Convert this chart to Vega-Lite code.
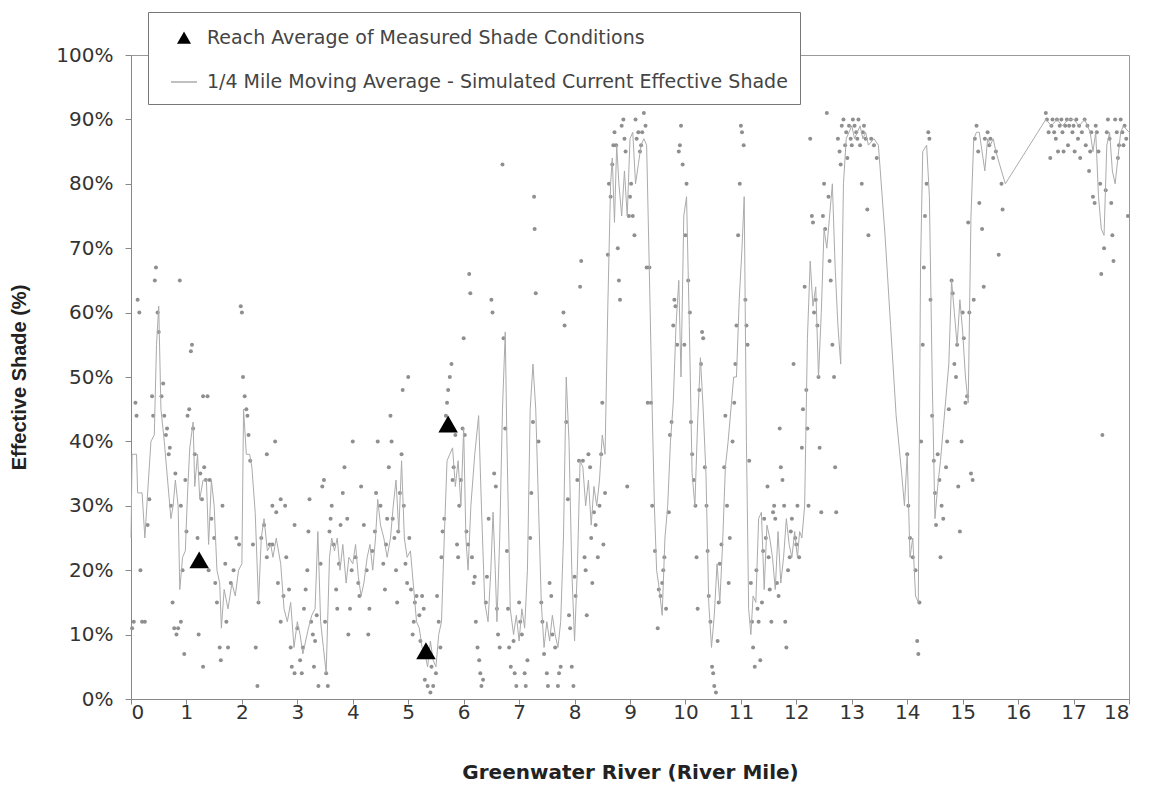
{
  "$schema": "https://vega.github.io/schema/vega-lite/v6.json",
  "width": 998,
  "height": 644,
  "autosize": "none",
  "padding": {"left": 131, "top": 55, "right": 20, "bottom": 88},
  "background": "white",
  "config": {
    "view": {"stroke": "#999", "strokeWidth": 1},
    "axis": {
      "grid": false,
      "domainColor": "#888",
      "tickColor": "#888",
      "tickSize": 6,
      "labelColor": "#333",
      "labelFont": "DejaVu Sans",
      "labelFontSize": 20,
      "titleFontWeight": "bold",
      "titleColor": "#222"
    }
  },
  "datasets": {
    "tri": [
      {"m": 1.23, "v": 21.6},
      {"m": 5.32, "v": 7.5},
      {"m": 5.72, "v": 42.7}
    ],
    "line": [
      {"m":0.00,"v":25},{"m":0.02,"v":38},{"m":0.10,"v":38},{"m":0.12,"v":32},{"m":0.20,"v":32},{"m":0.25,"v":25},{"m":0.30,"v":32},{"m":0.36,"v":40},{"m":0.42,"v":41},{"m":0.46,"v":55},{"m":0.50,"v":61},{"m":0.54,"v":45},{"m":0.60,"v":40},{"m":0.66,"v":34},{"m":0.72,"v":28},{"m":0.76,"v":30},{"m":0.80,"v":34},{"m":0.85,"v":30},{"m":0.88,"v":17},{"m":0.93,"v":22},{"m":0.98,"v":23},
      {"m":1.02,"v":32},{"m":1.06,"v":39},{"m":1.12,"v":43},{"m":1.15,"v":33},{"m":1.20,"v":38},{"m":1.24,"v":31},{"m":1.30,"v":34},{"m":1.36,"v":34},{"m":1.40,"v":24},{"m":1.45,"v":34},{"m":1.50,"v":30},{"m":1.55,"v":20},{"m":1.60,"v":18},{"m":1.63,"v":11},{"m":1.68,"v":17},{"m":1.75,"v":14},{"m":1.82,"v":18},{"m":1.88,"v":16},{"m":1.94,"v":20},{"m":2.00,"v":21},
      {"m":2.03,"v":45},{"m":2.08,"v":38},{"m":2.14,"v":38},{"m":2.18,"v":36},{"m":2.24,"v":29},{"m":2.30,"v":15},{"m":2.35,"v":25},{"m":2.40,"v":28},{"m":2.46,"v":23},{"m":2.52,"v":24},{"m":2.56,"v":22},{"m":2.62,"v":25},{"m":2.70,"v":21},{"m":2.76,"v":14},{"m":2.82,"v":12},{"m":2.88,"v":15},{"m":2.94,"v":8},
      {"m":3.00,"v":12},{"m":3.05,"v":10},{"m":3.10,"v":7},{"m":3.15,"v":9},{"m":3.20,"v":11},{"m":3.26,"v":13},{"m":3.32,"v":14},{"m":3.37,"v":26},{"m":3.42,"v":12},{"m":3.47,"v":8},{"m":3.52,"v":4},{"m":3.58,"v":22},{"m":3.62,"v":25},{"m":3.67,"v":23},{"m":3.72,"v":25},{"m":3.77,"v":20},{"m":3.82,"v":24},{"m":3.88,"v":18},{"m":3.93,"v":22},
      {"m":4.00,"v":21},{"m":4.05,"v":24},{"m":4.10,"v":19},{"m":4.15,"v":16},{"m":4.20,"v":18},{"m":4.26,"v":22},{"m":4.31,"v":24},{"m":4.36,"v":20},{"m":4.41,"v":25},{"m":4.45,"v":31},{"m":4.50,"v":27},{"m":4.56,"v":25},{"m":4.62,"v":22},{"m":4.68,"v":25},{"m":4.73,"v":30},{"m":4.78,"v":34},{"m":4.83,"v":26},{"m":4.88,"v":37},{"m":4.93,"v":25},{"m":4.98,"v":22},
      {"m":5.04,"v":23},{"m":5.10,"v":17},{"m":5.15,"v":12},{"m":5.20,"v":11},{"m":5.25,"v":8},{"m":5.30,"v":7},{"m":5.35,"v":5},{"m":5.40,"v":9},{"m":5.45,"v":6},{"m":5.50,"v":5},{"m":5.55,"v":10},{"m":5.60,"v":12},{"m":5.65,"v":25},{"m":5.70,"v":37},{"m":5.75,"v":38},{"m":5.80,"v":39},{"m":5.85,"v":33},{"m":5.90,"v":37},{"m":5.95,"v":30},
      {"m":6.00,"v":42},{"m":6.04,"v":25},{"m":6.08,"v":20},{"m":6.13,"v":30},{"m":6.20,"v":38},{"m":6.27,"v":44},{"m":6.32,"v":30},{"m":6.38,"v":15},{"m":6.44,"v":12},{"m":6.49,"v":20},{"m":6.53,"v":29},{"m":6.57,"v":20},{"m":6.60,"v":12},{"m":6.65,"v":25},{"m":6.70,"v":45},{"m":6.75,"v":57},{"m":6.78,"v":40},{"m":6.84,"v":14},{"m":6.90,"v":10},{"m":6.95,"v":13},
      {"m":7.00,"v":9},{"m":7.05,"v":14},{"m":7.10,"v":11},{"m":7.15,"v":20},{"m":7.20,"v":45},{"m":7.25,"v":52},{"m":7.30,"v":45},{"m":7.35,"v":30},{"m":7.40,"v":15},{"m":7.45,"v":8},{"m":7.50,"v":12},{"m":7.55,"v":9},{"m":7.60,"v":13},{"m":7.65,"v":10},{"m":7.70,"v":8},{"m":7.75,"v":12},{"m":7.80,"v":25},{"m":7.85,"v":50},{"m":7.90,"v":40},{"m":7.95,"v":20},
      {"m":8.00,"v":9},{"m":8.05,"v":20},{"m":8.10,"v":37},{"m":8.15,"v":36},{"m":8.20,"v":30},{"m":8.25,"v":34},{"m":8.30,"v":27},{"m":8.35,"v":33},{"m":8.40,"v":30},{"m":8.45,"v":34},{"m":8.50,"v":41},{"m":8.55,"v":38},{"m":8.60,"v":61},{"m":8.65,"v":80},{"m":8.68,"v":84},{"m":8.72,"v":74},{"m":8.76,"v":86},{"m":8.80,"v":80},{"m":8.85,"v":75},{"m":8.90,"v":82},{"m":8.95,"v":75},
      {"m":9.00,"v":87},{"m":9.05,"v":88},{"m":9.10,"v":80},{"m":9.15,"v":83},{"m":9.20,"v":86},{"m":9.25,"v":87},{"m":9.30,"v":86},{"m":9.35,"v":66},{"m":9.40,"v":45},{"m":9.44,"v":30},{"m":9.48,"v":20},{"m":9.53,"v":17},{"m":9.58,"v":13},{"m":9.63,"v":25},{"m":9.68,"v":30},{"m":9.73,"v":40},{"m":9.78,"v":46},{"m":9.83,"v":58},{"m":9.88,"v":65},{"m":9.92,"v":50},{"m":9.97,"v":75},
      {"m":10.02,"v":78},{"m":10.07,"v":58},{"m":10.12,"v":35},{"m":10.17,"v":30},{"m":10.22,"v":43},{"m":10.27,"v":53},{"m":10.32,"v":45},{"m":10.37,"v":35},{"m":10.42,"v":15},{"m":10.47,"v":8},{"m":10.52,"v":13},{"m":10.57,"v":21},{"m":10.62,"v":15},{"m":10.67,"v":24},{"m":10.72,"v":36},{"m":10.77,"v":40},{"m":10.82,"v":45},{"m":10.87,"v":50},{"m":10.92,"v":50},{"m":10.97,"v":62},
      {"m":11.02,"v":70},{"m":11.06,"v":78},{"m":11.10,"v":40},{"m":11.14,"v":14},{"m":11.18,"v":10},{"m":11.22,"v":16},{"m":11.27,"v":15},{"m":11.32,"v":28},{"m":11.37,"v":29},{"m":11.42,"v":17},{"m":11.47,"v":27},{"m":11.52,"v":25},{"m":11.57,"v":22},{"m":11.62,"v":17},{"m":11.67,"v":26},{"m":11.72,"v":18},{"m":11.77,"v":22},{"m":11.82,"v":28},{"m":11.87,"v":24},{"m":11.92,"v":22},{"m":11.97,"v":26},
      {"m":12.02,"v":22},{"m":12.06,"v":26},{"m":12.10,"v":25},{"m":12.15,"v":30},{"m":12.20,"v":56},{"m":12.25,"v":68},{"m":12.30,"v":61},{"m":12.35,"v":64},{"m":12.40,"v":50},{"m":12.45,"v":60},{"m":12.50,"v":73},{"m":12.55,"v":70},{"m":12.60,"v":75},{"m":12.65,"v":80},{"m":12.70,"v":67},{"m":12.75,"v":58},{"m":12.80,"v":52},{"m":12.85,"v":80},{"m":12.90,"v":87},{"m":12.95,"v":88},
      {"m":13.00,"v":89},{"m":13.05,"v":87},{"m":13.10,"v":88},{"m":13.15,"v":89},{"m":13.20,"v":87},{"m":13.25,"v":88},{"m":13.30,"v":86},{"m":13.40,"v":87},{"m":13.48,"v":86},{"m":13.60,"v":72},{"m":13.70,"v":58},{"m":13.80,"v":44},{"m":13.90,"v":35},{"m":13.95,"v":30},{"m":14.00,"v":38},{"m":14.05,"v":22},{"m":14.10,"v":25},{"m":14.15,"v":16},{"m":14.20,"v":15},
      {"m":14.24,"v":67},{"m":14.28,"v":85},{"m":14.35,"v":86},{"m":14.40,"v":78},{"m":14.45,"v":50},{"m":14.50,"v":28},{"m":14.55,"v":33},{"m":14.60,"v":37},{"m":14.65,"v":42},{"m":14.70,"v":47},{"m":14.75,"v":52},{"m":14.80,"v":65},{"m":14.85,"v":60},{"m":14.90,"v":55},{"m":14.95,"v":62},
      {"m":15.00,"v":57},{"m":15.05,"v":50},{"m":15.10,"v":46},{"m":15.15,"v":75},{"m":15.20,"v":87},{"m":15.25,"v":88},{"m":15.30,"v":88},{"m":15.35,"v":85},{"m":15.40,"v":82},{"m":15.45,"v":87},{"m":15.50,"v":86},{"m":15.55,"v":87},{"m":15.60,"v":85},{"m":15.70,"v":82},{"m":15.77,"v":80},
      {"m":16.50,"v":90},{"m":16.60,"v":89},{"m":16.70,"v":90},{"m":16.80,"v":89},{"m":16.90,"v":90},{"m":17.00,"v":90},{"m":17.10,"v":89},{"m":17.20,"v":90},{"m":17.30,"v":88},{"m":17.35,"v":85},{"m":17.40,"v":88},{"m":17.45,"v":78},{"m":17.50,"v":73},{"m":17.55,"v":72},{"m":17.60,"v":86},{"m":17.65,"v":88},{"m":17.70,"v":82},{"m":17.75,"v":80},{"m":17.80,"v":84},{"m":17.85,"v":88},{"m":17.90,"v":89},{"m":18.00,"v":88}
    ],
    "dots": [
      {"m":0.02,"v":11},{"m":0.05,"v":12},{"m":0.08,"v":46},{"m":0.1,"v":44},{"m":0.12,"v":62},{"m":0.15,"v":60},{"m":0.17,"v":20},{"m":0.2,"v":12},{"m":0.25,"v":12},{"m":0.3,"v":27},{"m":0.33,"v":31},{"m":0.38,"v":47},{"m":0.4,"v":44},{"m":0.43,"v":65},{"m":0.45,"v":67},{"m":0.48,"v":60},{"m":0.5,"v":57},{"m":0.55,"v":47},{"m":0.58,"v":49},{"m":0.6,"v":44},{"m":0.63,"v":41},{"m":0.65,"v":42},{"m":0.68,"v":38},{"m":0.7,"v":39},{"m":0.72,"v":30},{"m":0.75,"v":15},{"m":0.78,"v":11},{"m":0.82,"v":10},{"m":0.85,"v":11},{"m":0.88,"v":65},{"m":0.9,"v":12},{"m":0.93,"v":20},{"m":0.96,"v":7},{"m":0.98,"v":34},{"m":0.8,"v":35},{"m":0.9,"v":30},
      {"m":1.0,"v":26},{"m":1.02,"v":44},{"m":1.05,"v":45},{"m":1.08,"v":54},{"m":1.1,"v":55},{"m":1.12,"v":42},{"m":1.15,"v":38},{"m":1.2,"v":25},{"m":1.22,"v":10},{"m":1.25,"v":35},{"m":1.28,"v":31},{"m":1.3,"v":47},{"m":1.32,"v":36},{"m":1.35,"v":34},{"m":1.38,"v":47},{"m":1.42,"v":34},{"m":1.45,"v":28},{"m":1.5,"v":25},{"m":1.52,"v":18},{"m":1.55,"v":15},{"m":1.6,"v":8},{"m":1.62,"v":6},{"m":1.65,"v":30},{"m":1.7,"v":21},{"m":1.72,"v":12},{"m":1.75,"v":8},{"m":1.8,"v":18},{"m":1.85,"v":20},{"m":1.9,"v":25},{"m":1.95,"v":24},{"m":1.98,"v":61},{"m":2.0,"v":60},{"m":2.02,"v":50},{"m":2.05,"v":47},{"m":2.08,"v":45},{"m":2.1,"v":44},{"m":2.12,"v":41},{"m":1.3,"v":5},{"m":1.4,"v":20},
      {"m":2.15,"v":37},{"m":2.2,"v":24},{"m":2.25,"v":8},{"m":2.28,"v":2},{"m":2.3,"v":15},{"m":2.35,"v":25},{"m":2.4,"v":27},{"m":2.45,"v":22},{"m":2.5,"v":24},{"m":2.55,"v":30},{"m":2.6,"v":40},{"m":2.62,"v":29},{"m":2.65,"v":18},{"m":2.7,"v":12},{"m":2.75,"v":16},{"m":2.8,"v":22},{"m":2.85,"v":17},{"m":2.88,"v":8},{"m":2.9,"v":5},{"m":2.95,"v":4},{"m":2.45,"v":38},{"m":2.55,"v":24},{"m":2.7,"v":31},{"m":2.78,"v":30},{"m":2.95,"v":27},
      {"m":3.0,"v":11},{"m":3.05,"v":6},{"m":3.08,"v":4},{"m":3.1,"v":8},{"m":3.12,"v":14},{"m":3.15,"v":17},{"m":3.18,"v":20},{"m":3.2,"v":26},{"m":3.22,"v":31},{"m":3.25,"v":12},{"m":3.28,"v":10},{"m":3.3,"v":5},{"m":3.32,"v":9},{"m":3.35,"v":13},{"m":3.38,"v":2},{"m":3.42,"v":21},{"m":3.45,"v":33},{"m":3.48,"v":34},{"m":3.5,"v":12},{"m":3.52,"v":4},{"m":3.55,"v":2},{"m":3.58,"v":26},{"m":3.6,"v":28},{"m":3.62,"v":30},{"m":3.65,"v":24},{"m":3.7,"v":17},{"m":3.72,"v":14},{"m":3.75,"v":21},{"m":3.78,"v":27},{"m":3.82,"v":32},{"m":3.85,"v":36},{"m":3.9,"v":28},{"m":3.92,"v":10},{"m":3.95,"v":14},{"m":3.98,"v":20},
      {"m":4.0,"v":40},{"m":4.05,"v":22},{"m":4.1,"v":18},{"m":4.12,"v":16},{"m":4.15,"v":33},{"m":4.2,"v":27},{"m":4.25,"v":20},{"m":4.28,"v":10},{"m":4.3,"v":14},{"m":4.35,"v":23},{"m":4.4,"v":26},{"m":4.42,"v":32},{"m":4.45,"v":40},{"m":4.5,"v":30},{"m":4.55,"v":21},{"m":4.58,"v":17},{"m":4.6,"v":24},{"m":4.62,"v":28},{"m":4.65,"v":36},{"m":4.68,"v":44},{"m":4.7,"v":40},{"m":4.72,"v":28},{"m":4.75,"v":25},{"m":4.78,"v":20},{"m":4.8,"v":15},{"m":4.82,"v":26},{"m":4.85,"v":32},{"m":4.88,"v":38},{"m":4.9,"v":48},{"m":4.92,"v":30},{"m":4.95,"v":21},{"m":4.98,"v":18},
      {"m":5.0,"v":50},{"m":5.02,"v":25},{"m":5.05,"v":17},{"m":5.08,"v":10},{"m":5.1,"v":12},{"m":5.12,"v":15},{"m":5.15,"v":16},{"m":5.2,"v":13},{"m":5.22,"v":9},{"m":5.25,"v":16},{"m":5.28,"v":14},{"m":5.3,"v":3},{"m":5.35,"v":2},{"m":5.4,"v":1},{"m":5.42,"v":5},{"m":5.45,"v":2},{"m":5.5,"v":4},{"m":5.52,"v":16},{"m":5.55,"v":12},{"m":5.58,"v":8},{"m":5.6,"v":22},{"m":5.62,"v":26},{"m":5.65,"v":28},{"m":5.68,"v":44},{"m":5.7,"v":46},{"m":5.72,"v":48},{"m":5.75,"v":50},{"m":5.78,"v":52},{"m":5.8,"v":34},{"m":5.82,"v":36},{"m":5.85,"v":41},{"m":5.88,"v":24},{"m":5.9,"v":22},{"m":5.92,"v":30},{"m":5.95,"v":34},{"m":5.98,"v":42},
      {"m":6.0,"v":56},{"m":6.02,"v":41},{"m":6.05,"v":26},{"m":6.08,"v":24},{"m":6.1,"v":66},{"m":6.12,"v":63},{"m":6.15,"v":22},{"m":6.18,"v":18},{"m":6.2,"v":19},{"m":6.22,"v":12},{"m":6.25,"v":8},{"m":6.28,"v":6},{"m":6.3,"v":4},{"m":6.32,"v":2},{"m":6.35,"v":3},{"m":6.4,"v":15},{"m":6.42,"v":19},{"m":6.45,"v":28},{"m":6.5,"v":62},{"m":6.52,"v":60},{"m":6.55,"v":35},{"m":6.58,"v":33},{"m":6.6,"v":14},{"m":6.62,"v":10},{"m":6.65,"v":8},{"m":6.7,"v":83},{"m":6.72,"v":56},{"m":6.75,"v":42},{"m":6.78,"v":23},{"m":6.8,"v":14},{"m":6.82,"v":8},{"m":6.85,"v":5},{"m":6.9,"v":9},{"m":6.92,"v":4},{"m":6.95,"v":2},
      {"m":7.0,"v":15},{"m":7.02,"v":12},{"m":7.05,"v":10},{"m":7.1,"v":4},{"m":7.12,"v":2},{"m":7.15,"v":6},{"m":7.2,"v":25},{"m":7.22,"v":32},{"m":7.25,"v":43},{"m":7.27,"v":78},{"m":7.28,"v":73},{"m":7.3,"v":63},{"m":7.35,"v":40},{"m":7.4,"v":15},{"m":7.42,"v":12},{"m":7.45,"v":7},{"m":7.5,"v":4},{"m":7.52,"v":2},{"m":7.55,"v":18},{"m":7.58,"v":16},{"m":7.6,"v":10},{"m":7.65,"v":8},{"m":7.7,"v":2},{"m":7.72,"v":4},{"m":7.75,"v":5},{"m":7.8,"v":60},{"m":7.82,"v":58},{"m":7.85,"v":43},{"m":7.88,"v":31},{"m":7.9,"v":13},{"m":7.92,"v":11},{"m":7.95,"v":5},{"m":7.98,"v":2},
      {"m":8.0,"v":19},{"m":8.02,"v":16},{"m":8.05,"v":34},{"m":8.08,"v":37},{"m":8.1,"v":64},{"m":8.12,"v":68},{"m":8.15,"v":37},{"m":8.18,"v":22},{"m":8.2,"v":20},{"m":8.22,"v":13},{"m":8.25,"v":38},{"m":8.28,"v":36},{"m":8.3,"v":25},{"m":8.32,"v":18},{"m":8.35,"v":29},{"m":8.38,"v":27},{"m":8.42,"v":22},{"m":8.45,"v":30},{"m":8.48,"v":38},{"m":8.5,"v":46},{"m":8.52,"v":24},{"m":8.55,"v":32},{"m":8.6,"v":69},{"m":8.62,"v":80},{"m":8.65,"v":78},{"m":8.68,"v":83},{"m":8.7,"v":86},{"m":8.72,"v":88},{"m":8.75,"v":86},{"m":8.78,"v":70},{"m":8.8,"v":65},{"m":8.82,"v":62},{"m":8.85,"v":89},{"m":8.88,"v":90},{"m":8.9,"v":87},{"m":8.92,"v":85},{"m":8.95,"v":33},{"m":8.98,"v":75},
      {"m":9.0,"v":78},{"m":9.02,"v":80},{"m":9.05,"v":75},{"m":9.08,"v":72},{"m":9.1,"v":90},{"m":9.12,"v":87},{"m":9.15,"v":88},{"m":9.18,"v":85},{"m":9.2,"v":86},{"m":9.22,"v":88},{"m":9.25,"v":91},{"m":9.28,"v":89},{"m":9.3,"v":67},{"m":9.32,"v":46},{"m":9.35,"v":67},{"m":9.38,"v":46},{"m":9.4,"v":30},{"m":9.45,"v":23},{"m":9.5,"v":11},{"m":9.52,"v":17},{"m":9.55,"v":16},{"m":9.58,"v":18},{"m":9.6,"v":20},{"m":9.62,"v":22},{"m":9.65,"v":14},{"m":9.7,"v":29},{"m":9.72,"v":41},{"m":9.75,"v":43},{"m":9.78,"v":58},{"m":9.8,"v":62},{"m":9.82,"v":61},{"m":9.85,"v":55},{"m":9.88,"v":85},{"m":9.9,"v":86},{"m":9.92,"v":89},{"m":9.95,"v":83},{"m":9.98,"v":55},
      {"m":10.0,"v":72},{"m":10.02,"v":80},{"m":10.05,"v":65},{"m":10.08,"v":60},{"m":10.1,"v":43},{"m":10.12,"v":38},{"m":10.15,"v":34},{"m":10.18,"v":30},{"m":10.2,"v":22},{"m":10.22,"v":14},{"m":10.25,"v":48},{"m":10.28,"v":52},{"m":10.3,"v":57},{"m":10.32,"v":56},{"m":10.35,"v":36},{"m":10.38,"v":30},{"m":10.4,"v":23},{"m":10.42,"v":16},{"m":10.45,"v":12},{"m":10.48,"v":5},{"m":10.5,"v":4},{"m":10.52,"v":2},{"m":10.55,"v":1},{"m":10.58,"v":9},{"m":10.6,"v":15},{"m":10.62,"v":21},{"m":10.65,"v":24},{"m":10.7,"v":36},{"m":10.72,"v":44},{"m":10.75,"v":30},{"m":10.78,"v":18},{"m":10.8,"v":25},{"m":10.85,"v":40},{"m":10.88,"v":46},{"m":10.9,"v":52},{"m":10.92,"v":58},{"m":10.95,"v":72},{"m":10.98,"v":80},
      {"m":11.0,"v":89},{"m":11.02,"v":88},{"m":11.05,"v":86},{"m":11.08,"v":62},{"m":11.1,"v":58},{"m":11.12,"v":55},{"m":11.15,"v":37},{"m":11.18,"v":18},{"m":11.2,"v":12},{"m":11.22,"v":8},{"m":11.25,"v":5},{"m":11.28,"v":20},{"m":11.3,"v":14},{"m":11.32,"v":12},{"m":11.35,"v":6},{"m":11.38,"v":15},{"m":11.4,"v":23},{"m":11.42,"v":28},{"m":11.45,"v":25},{"m":11.48,"v":33},{"m":11.5,"v":22},{"m":11.52,"v":17},{"m":11.55,"v":12},{"m":11.58,"v":29},{"m":11.6,"v":30},{"m":11.62,"v":28},{"m":11.65,"v":18},{"m":11.68,"v":16},{"m":11.7,"v":42},{"m":11.72,"v":36},{"m":11.75,"v":34},{"m":11.78,"v":30},{"m":11.8,"v":12},{"m":11.82,"v":8},{"m":11.85,"v":20},{"m":11.88,"v":22},{"m":11.9,"v":26},{"m":11.92,"v":28},{"m":11.95,"v":52},{"m":11.98,"v":25},
      {"m":12.0,"v":24},{"m":12.02,"v":30},{"m":12.05,"v":22},{"m":12.1,"v":39},{"m":12.12,"v":45},{"m":12.15,"v":64},{"m":12.18,"v":48},{"m":12.2,"v":42},{"m":12.22,"v":30},{"m":12.25,"v":87},{"m":12.28,"v":75},{"m":12.3,"v":74},{"m":12.32,"v":60},{"m":12.35,"v":62},{"m":12.38,"v":58},{"m":12.4,"v":50},{"m":12.42,"v":39},{"m":12.45,"v":29},{"m":12.48,"v":75},{"m":12.5,"v":80},{"m":12.52,"v":73},{"m":12.55,"v":91},{"m":12.58,"v":78},{"m":12.6,"v":68},{"m":12.62,"v":65},{"m":12.65,"v":55},{"m":12.68,"v":50},{"m":12.7,"v":36},{"m":12.72,"v":29},{"m":12.75,"v":87},{"m":12.78,"v":85},{"m":12.8,"v":83},{"m":12.82,"v":89},{"m":12.85,"v":90},{"m":12.88,"v":86},{"m":12.9,"v":88},{"m":12.92,"v":84},{"m":12.95,"v":89},{"m":12.98,"v":87},
      {"m":13.0,"v":86},{"m":13.02,"v":90},{"m":13.05,"v":89},{"m":13.08,"v":88},{"m":13.1,"v":87},{"m":13.12,"v":90},{"m":13.15,"v":86},{"m":13.18,"v":80},{"m":13.2,"v":88},{"m":13.22,"v":89},{"m":13.25,"v":87},{"m":13.28,"v":76},{"m":13.3,"v":72},{"m":13.35,"v":87},{"m":13.4,"v":86},{"m":13.45,"v":84},
      {"m":14.0,"v":38},{"m":14.02,"v":30},{"m":14.05,"v":25},{"m":14.1,"v":22},{"m":14.15,"v":20},{"m":14.18,"v":9},{"m":14.2,"v":7},{"m":14.22,"v":15},{"m":14.25,"v":40},{"m":14.28,"v":55},{"m":14.3,"v":67},{"m":14.32,"v":75},{"m":14.35,"v":80},{"m":14.38,"v":88},{"m":14.4,"v":87},{"m":14.42,"v":62},{"m":14.45,"v":44},{"m":14.48,"v":37},{"m":14.5,"v":32},{"m":14.52,"v":27},{"m":14.55,"v":38},{"m":14.58,"v":34},{"m":14.6,"v":22},{"m":14.62,"v":30},{"m":14.65,"v":28},{"m":14.7,"v":36},{"m":14.72,"v":40},{"m":14.75,"v":45},{"m":14.8,"v":65},{"m":14.82,"v":63},{"m":14.85,"v":52},{"m":14.88,"v":50},{"m":14.9,"v":55},{"m":14.92,"v":33},{"m":14.95,"v":26},{"m":14.98,"v":40},
      {"m":15.0,"v":60},{"m":15.02,"v":56},{"m":15.05,"v":46},{"m":15.08,"v":47},{"m":15.1,"v":74},{"m":15.12,"v":60},{"m":15.15,"v":35},{"m":15.18,"v":34},{"m":15.2,"v":62},{"m":15.22,"v":87},{"m":15.25,"v":89},{"m":15.28,"v":85},{"m":15.3,"v":77},{"m":15.35,"v":73},{"m":15.38,"v":64},{"m":15.4,"v":87},{"m":15.45,"v":88},{"m":15.48,"v":86},{"m":15.5,"v":87},{"m":15.55,"v":84},{"m":15.6,"v":85},{"m":15.65,"v":69},{"m":15.7,"v":80},{"m":15.72,"v":76},
      {"m":16.5,"v":91},{"m":16.52,"v":90},{"m":16.55,"v":88},{"m":16.58,"v":84},{"m":16.6,"v":89},{"m":16.62,"v":90},{"m":16.65,"v":88},{"m":16.68,"v":87},{"m":16.7,"v":90},{"m":16.72,"v":85},{"m":16.75,"v":89},{"m":16.78,"v":90},{"m":16.8,"v":88},{"m":16.82,"v":85},{"m":16.85,"v":89},{"m":16.88,"v":90},{"m":16.9,"v":86},{"m":16.92,"v":89},{"m":16.95,"v":90},{"m":16.98,"v":88},
      {"m":17.0,"v":89},{"m":17.02,"v":85},{"m":17.05,"v":90},{"m":17.08,"v":87},{"m":17.1,"v":89},{"m":17.12,"v":84},{"m":17.15,"v":88},{"m":17.2,"v":90},{"m":17.22,"v":86},{"m":17.25,"v":89},{"m":17.28,"v":82},{"m":17.3,"v":85},{"m":17.32,"v":88},{"m":17.35,"v":78},{"m":17.38,"v":77},{"m":17.4,"v":89},{"m":17.42,"v":88},{"m":17.45,"v":85},{"m":17.48,"v":80},{"m":17.5,"v":66},{"m":17.52,"v":41},{"m":17.55,"v":70},{"m":17.58,"v":79},{"m":17.6,"v":88},{"m":17.62,"v":90},{"m":17.65,"v":87},{"m":17.68,"v":77},{"m":17.7,"v":72},{"m":17.72,"v":68},{"m":17.75,"v":90},{"m":17.78,"v":88},{"m":17.8,"v":84},{"m":17.82,"v":86},{"m":17.85,"v":90},{"m":17.88,"v":88},{"m":17.9,"v":86},{"m":17.92,"v":89},{"m":17.95,"v":87},{"m":17.98,"v":75}
    ]
  },
  "layer": [
    {
      "data": {"name": "dots"},
      "mark": {"type": "point", "filled": true, "size": 16, "color": "#8f8f8f", "opacity": 1},
      "encoding": {
        "x": {"field": "m", "type": "quantitative", "scale": {"domain": [0, 18], "nice": false, "zero": false},
          "axis": {"values": [0,1,2,3,4,5,6,7,8,9,10,11,12,13,14,15,16,17,18], "tickSize": 5, "labelPadding": -2, "titlePadding": 40, "titleFont": "DejaVu Sans", "titleFontSize": 20},
          "title": "Greenwater River (River Mile)"},
        "y": {"field": "v", "type": "quantitative", "scale": {"domain": [0, 100], "nice": false},
          "axis": {"values": [0,10,20,30,40,50,60,70,80,90,100], "labelExpr": "datum.value + '%'", "labelPadding": 12, "titlePadding": 26, "titleFont": "Liberation Sans", "titleFontSize": 20},
          "title": "Effective Shade (%)"}
      }
    },
    {
      "data": {"name": "line"},
      "mark": {"type": "line", "strokeWidth": 1},
      "encoding": {
        "x": {"field": "m", "type": "quantitative"},
        "y": {"field": "v", "type": "quantitative"},
        "color": {
          "datum": "1/4 Mile Moving Average - Simulated Current Effective Shade",
          "scale": {"domain": ["Reach Average of Measured Shade Conditions", "1/4 Mile Moving Average - Simulated Current Effective Shade"], "range": ["#000000", "#ababab"]},
          "legend": {
            "title": null,
            "orient": "none",
            "legendX": 17,
            "legendY": -43,
            "direction": "vertical",
            "fillColor": "white",
            "strokeColor": "#777",
            "padding": 12,
            "rowPadding": 20,
            "labelFont": "DejaVu Sans",
            "labelFontSize": 19,
            "labelColor": "#444",
            "labelOffset": 9,
            "symbolOffset": 10,
            "labelLimit": 900,
            "symbolSize": 676,
            "symbolStrokeWidth": 1.5,
            "encode": {
              "symbols": {
                "update": {
                  "shape": {"signal": "datum.value === 'Reach Average of Measured Shade Conditions' ? 'triangle-up' : 'stroke'"},
                  "size": {"signal": "datum.value === 'Reach Average of Measured Shade Conditions' ? 130 : 676"},
                  "fill": {"signal": "datum.value === 'Reach Average of Measured Shade Conditions' ? '#000000' : 'transparent'"},
                  "stroke": {"signal": "datum.value === 'Reach Average of Measured Shade Conditions' ? '#000000' : '#aaaaaa'"}
                }
              }
            }
          }
        }
      }
    },
    {
      "data": {"name": "tri"},
      "mark": {"type": "point", "shape": "triangle-up", "filled": true, "size": 380, "opacity": 1},
      "encoding": {
        "x": {"field": "m", "type": "quantitative"},
        "y": {"field": "v", "type": "quantitative"},
        "color": {"datum": "Reach Average of Measured Shade Conditions"}
      }
    }
  ]
}
